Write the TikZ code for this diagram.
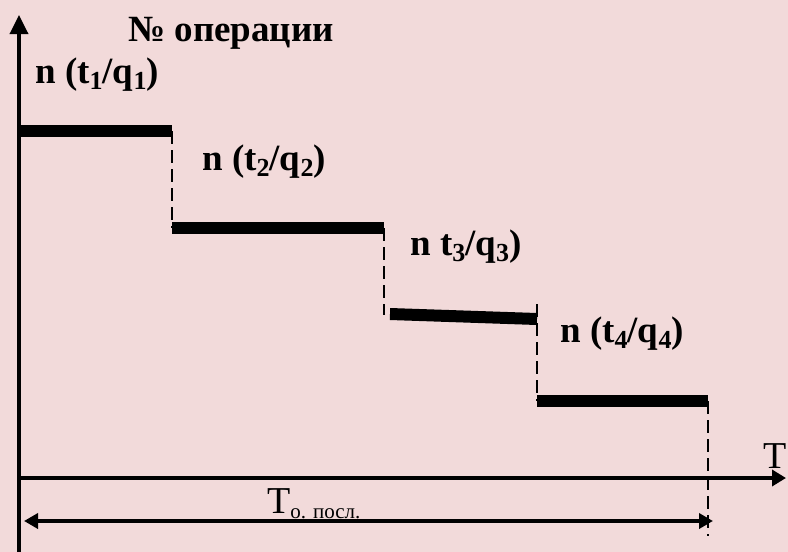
\documentclass[tikz,border=0pt]{standalone}
\usepackage{fontspec}
\setmainfont{Liberation Serif}
\usetikzlibrary{arrows.meta}
\definecolor{bg}{RGB}{242,218,218}
\newcommand{\sbs}[1]{\raisebox{-6pt}{\fontsize{26}{28}\selectfont #1}}
\tikzset{
  axis/.style={line width=3.5pt,-{Triangle[length=19pt,width=18pt]}},
  bar/.style={line width=12pt},
  guide/.style={line width=2.8pt,dash pattern=on 13pt off 6pt},
  lbl/.style={inner sep=0pt,anchor=base west,font=\fontsize{37}{42}\bfseries\selectfont},
  tlbl/.style={inner sep=0pt,anchor=base west,font=\fontsize{38}{42}\selectfont},
  dim/.style={line width=3.5pt,{Triangle[length=14pt,width=15pt]}-{Triangle[length=14pt,width=15pt]}}
}
\begin{document}
\begin{tikzpicture}[x=1pt,y=-1pt]
\fill[bg] (0,0) rectangle (788,552);
\useasboundingbox (0,0) rectangle (788,552);
% axes
\coordinate (O) at (19,478);
\coordinate (ybot) at (19,552);
\coordinate (ytop) at (19,15);
\coordinate (xend) at (786,478);
\draw[line width=3.5pt] (ybot) -- (O);
\draw[axis] (O) -- (ytop);
\draw[axis,-{Triangle[length=14pt,width=16pt]}] (O) -- (xend);
% steps
\coordinate (a0) at (19,131);  \coordinate (a1) at (172,131);
\coordinate (b0) at (172,228); \coordinate (b1) at (384,228);
\coordinate (c0) at (390,314); \coordinate (c1) at (537,319);
\coordinate (d0) at (537,401); \coordinate (d1) at (708,401);
\coordinate (b1b) at (384,315);
\coordinate (c1t) at (537,304);
\coordinate (d1b) at (708,536);
\draw[bar] (a0) -- (a1);
\draw[bar] (b0) -- (b1);
\draw[bar] (c0) -- (c1);
\draw[bar] (d0) -- (d1);
\draw[guide] (a1) -- (b0);
\draw[guide] (b1) -- (b1b);
\draw[guide] (c1t) -- (d0);
\draw[guide] (d1) -- (d1b);
% dimension arrow
\coordinate (m0) at (24,521);
\coordinate (m1) at (713,521);
\draw[dim] (m0) -- (m1);
% labels
\node[lbl] (title) at (128,41) {№ операции};
\node[lbl] (l1) at (35,83) {n (t\sbs{1}/q\sbs{1})};
\node[lbl] (l2) at (202,170) {n (t\sbs{2}/q\sbs{2})};
\node[lbl] (l3) at (410,255) {n t\sbs{3}/q\sbs{3})};
\node[lbl] (l4) at (560,342) {n (t\sbs{4}/q\sbs{4})};
\node[tlbl] (T) at (763,468) {T};
\node[tlbl] (Tp) at (267,513) {T\raisebox{-5pt}{\fontsize{21}{24}\selectfont о. посл.}};
\end{tikzpicture}
\end{document}
